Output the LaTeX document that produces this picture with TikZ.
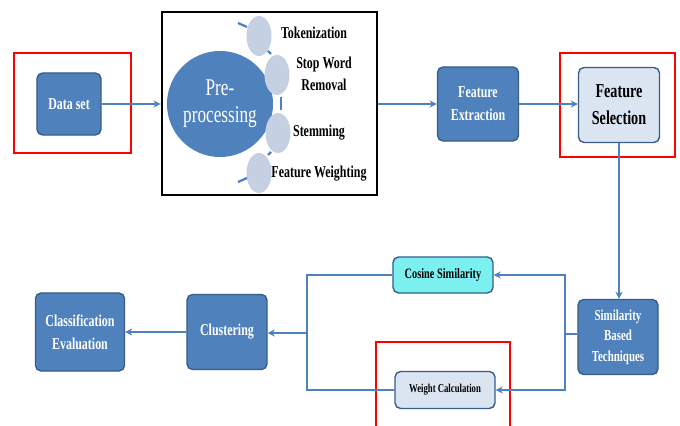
\documentclass[tikz,border=0pt]{standalone}
\usepackage{fontspec}
\setmainfont{Liberation Serif}[FakeStretch=0.72]
\usetikzlibrary{arrows.meta,positioning,shapes.geometric}
\definecolor{nblue}{HTML}{4F81BD}
\definecolor{nedge}{HTML}{385D8A}
\definecolor{nline}{HTML}{4F81BD}
\definecolor{nlight}{HTML}{DBE5F1}
\definecolor{nbubble}{HTML}{C5D0E3}
\definecolor{ncyan}{HTML}{7CF0F0}
\definecolor{nred}{HTML}{FF0000}

\begin{document}
\begin{tikzpicture}[x=0.025cm, y=-0.025cm,
  box/.style={draw=nedge, rounded corners=4pt, line width=1pt, align=center, inner sep=1pt},
  dbox/.style={box, fill=nblue, text=white, font=\fontsize{11.8}{16.5}\selectfont\bfseries},
  lbox/.style={box, fill=nlight, text=black},
  bubble/.style={ellipse, fill=nbubble, minimum width=0.625cm, minimum height=1cm, inner sep=0pt},
  lbl/.style={align=center, font=\fontsize{11.8}{15.5}\selectfont\bfseries, inner sep=0pt},
  redbox/.style={draw=nred, line width=1.4pt},
  arr/.style={-{Stealth[length=5pt,width=5pt]}, line width=1.3pt, draw=nline},
  link/.style={line width=1.3pt, draw=nline},
  tick/.style={line width=1.6pt, draw=nline},
]
  \fill[white] (0,0) rectangle (680,426);
  \useasboundingbox (0,0) rectangle (680,426);

  % red frames
  \node[redbox, minimum width=2.925cm, minimum height=2.5cm] (frameds) at (72.5,103) {};
  \node[redbox, minimum width=2.875cm, minimum height=2.6cm] (framefs) at (617.5,105) {};
  \draw[redbox] (376,426) -- (376,342) -- (510,342) -- (510,426);

  % top row
  \node[dbox, minimum width=1.6cm, minimum height=1.55cm] (dataset) at (69,104) {Data set};
  \node[draw=black, line width=2pt, minimum width=5.375cm, minimum height=4.575cm] (prebox) at (269.5,103.5) {};
  \node[circle, fill=nblue, minimum size=2.65cm, text=white, align=center,
        font=\fontsize{17}{19.5}\selectfont] (pre) at (220,104) {Pre-\\processing};
  \node[bubble] (btok) at (259,36) {};
  \node[bubble] (bstop) at (277,75) {};
  \node[bubble] (bstem) at (278,133) {};
  \node[bubble] (bweight) at (259,173) {};
  \draw[tick] (238,23) -- (247,27);
  \draw[tick] (268,51) -- (271,54);
  \draw[tick] (281,97) -- (281,110);
  \draw[tick] (271,152) -- (268,155);
  \draw[tick] (238,182) -- (247,178);
  \node[lbl] (ltok) at (314,33) {Tokenization};
  \node[lbl] (lstop) at (324,74) {Stop Word\\Removal};
  \node[lbl] (lstem) at (319,133) {Stemming};
  \node[lbl] (lweight) at (319,174) {Feature Weighting};

  \node[dbox, minimum width=2.025cm, minimum height=1.85cm] (featext) at (478,104) {Feature\\Extraction};
  \node[lbox, minimum width=2.025cm, minimum height=1.875cm,
        font=\fontsize{14}{19}\selectfont\bfseries] (featsel) at (619,105) {Feature\\Selection};

  % bottom row
  \node[dbox, minimum width=2cm, minimum height=1.875cm,
        font=\fontsize{10.8}{14.5}\selectfont\bfseries] (simtech) at (618,337) {Similarity\\Based\\Techniques};
  \node[box, fill=ncyan, minimum width=2.5cm, minimum height=0.9cm,
        font=\fontsize{10.2}{12}\selectfont\bfseries] (cosine) at (443,275) {Cosine Similarity};
  \node[lbox, minimum width=2.5cm, minimum height=0.925cm,
        font=\fontsize{8.6}{10}\selectfont\bfseries] (weight) at (445,390) {Weight Calculation};
  \node[dbox, minimum width=2cm, minimum height=1.875cm] (cluster) at (227,332) {Clustering};
  \node[dbox, minimum width=2.225cm, minimum height=1.95cm] (classif) at (80,332) {Classification\\Evaluation};

  \coordinate (rsplit) at (565,334);
  \coordinate (lsplit) at (307,333);

  \draw[arr] (dataset.east) -- (dataset.east -| prebox.west);
  \draw[arr] (prebox.east |- featext) -- (featext);
  \draw[arr] (featext) -- (featext -| featsel.west);
  \draw[arr] (featsel.south) -- (featsel.south |- simtech.north);
  \draw[link] (simtech.west |- rsplit) -- (rsplit);
  \draw[arr] (rsplit) |- (cosine.east);
  \draw[arr] (rsplit) |- (weight.east);
  \draw[link] (cosine.west) -| (lsplit);
  \draw[link] (weight.west) -| (lsplit);
  \draw[arr] (lsplit) -- (lsplit -| cluster.east);
  \draw[arr] (cluster) -- (classif);
\end{tikzpicture}
\end{document}
